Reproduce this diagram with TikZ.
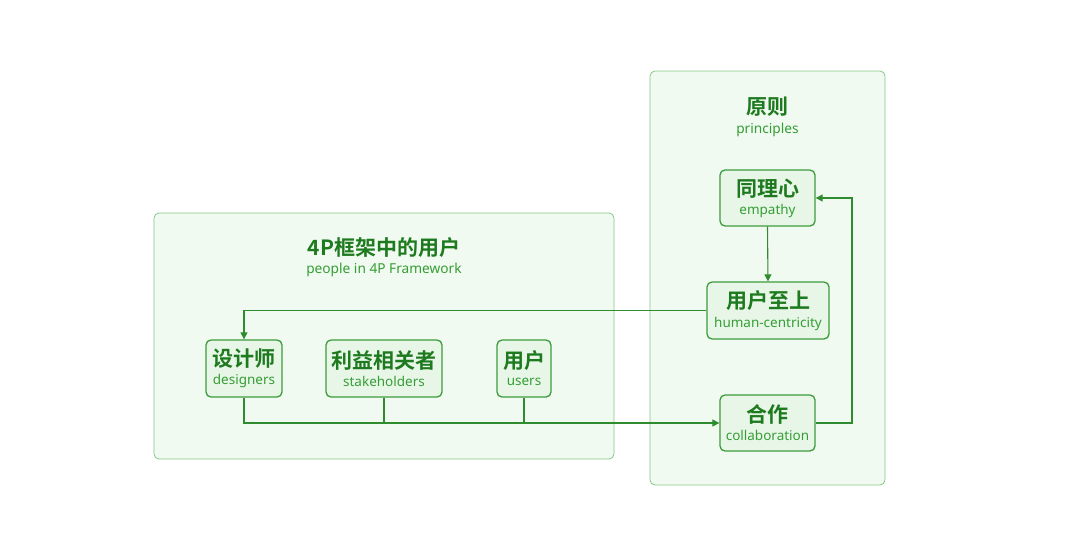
\documentclass[tikz,border=0pt]{standalone}
\usepackage{fontspec}
\setmainfont{Noto Sans}
\newfontfamily\cjk{Noto Sans CJK SC}[BoldFont={* Bold}]
\usetikzlibrary{arrows.meta}
\definecolor{lineg}{HTML}{2E8B2E}
\definecolor{txtg}{HTML}{1E7A1E}
\definecolor{subg}{HTML}{349E34}
\definecolor{contfill}{HTML}{F1FAF1}
\definecolor{contdraw}{HTML}{86C986}
\definecolor{boxfill}{HTML}{E8F6E8}
\definecolor{boxdraw}{HTML}{3C9C3C}
\tikzset{
  container/.style={draw=contdraw, fill=contfill, rounded corners=5pt, line width=0.8pt},
  pbox/.style={draw=boxdraw, fill=boxfill, rounded corners=5pt, line width=1.3pt, inner sep=0pt, align=center},
  zh/.style={font=\cjk\bfseries\fontsize{21}{24}\selectfont, text=txtg},
  en/.style={font=\fontsize{13.7}{16}\selectfont, text=subg},
  conn/.style={draw=lineg, line width=1.1pt},
  arr/.style={conn, -{Triangle[length=7pt,width=7pt]}},
}
\newcommand{\twol}[2]{{\cjk\bfseries\fontsize{21}{24}\selectfont\color{txtg}#1}\\[5pt]{\fontsize{13.5}{16}\selectfont\color{subg}#2}}
\begin{document}
\begin{tikzpicture}[x=1pt,y=-1pt]
\path[use as bounding box, fill=white] (0,0) rectangle (1080,554);
% containers
\path[container] (154,213) rectangle (614,459);
\path[container] (650,71) rectangle (885,485);
% titles
\node[zh] (t1) at (384,248) {4P框架中的用户};
\node[en] (t1s) at (384,270) {people in 4P Framework};
\node[zh] (t2) at (767.5,107) {原则};
\node[en] (t2s) at (767.5,130) {principles};
% boxes
\node[pbox, minimum width=95pt, minimum height=56pt] (emp) at (767.5,198) {\twol{同理心}{empathy}};
\node[pbox, minimum width=122pt, minimum height=57pt] (hum) at (768,310.5) {\twol{用户至上}{human-centricity}};
\node[pbox, minimum width=95pt, minimum height=56pt] (col) at (767.5,423) {\twol{合作}{collaboration}};
\node[pbox, minimum width=76pt, minimum height=57pt] (des) at (244,368.5) {\twol{设计师}{designers}};
\node[pbox, minimum width=116pt, minimum height=57pt] (sta) at (384,368.5) {\twol{利益相关者}{stakeholders}};
\node[pbox, minimum width=54pt, minimum height=57pt] (use) at (524,368.5) {\twol{用户}{users}};
% connectors
\draw[arr] (emp.south) -- (hum.north);
\draw[arr] (hum.west) -| (des.north);
\coordinate (j) at (384,423);
\draw[conn] (sta.south) -- (j);
\draw[conn] (use.south) -- (use.south |- col.west);
\draw[arr] (des.south) |- (col.west);
\coordinate (rc) at (852,423);
\draw[arr] (col.east) -- (rc) |- (emp.east);
\end{tikzpicture}
\end{document}
